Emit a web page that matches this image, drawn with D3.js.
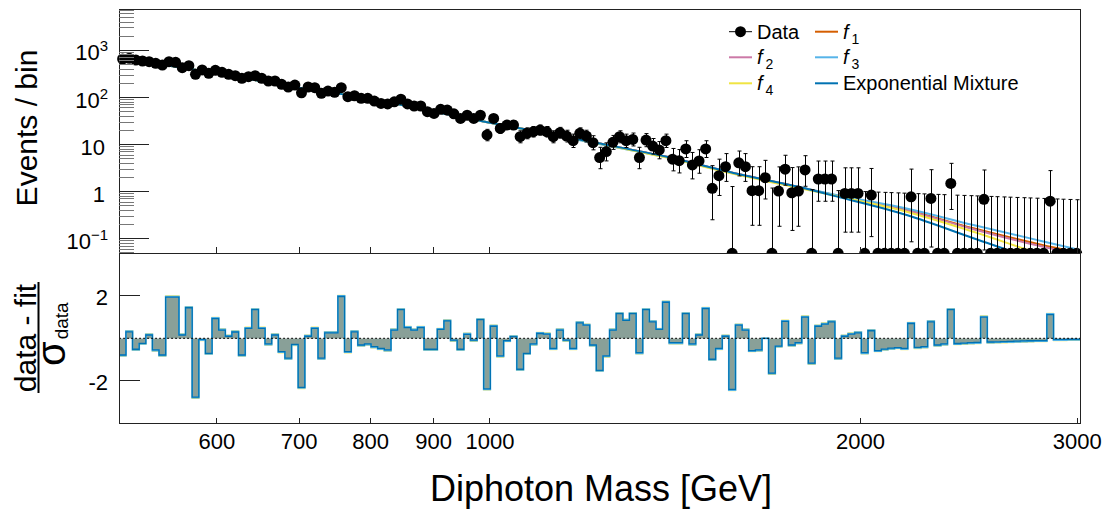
<!DOCTYPE html>
<html><head><meta charset="utf-8">
<script src="https://cdn.jsdelivr.net/npm/d3@7"></script>
<style>
html,body{margin:0;padding:0;background:#fff;}
svg{display:block;font-family:"Liberation Sans",Arial,Helvetica,sans-serif;}
</style></head><body>
<svg id="c" width="1110" height="509"></svg>
<script>
// ---------------- data ----------------
const massLow = 500, massHigh = 3015, nBins = 145;
const events = [657,680,625,596,575,532,490,575,559,429,473,311,384,326,378,343,310,290,256,277,
  290,256,224,224,191,167,184,126,167,162,123,137,129,162,104,109,96,96,84,75,
  73,81,92,73,66,66,50,46,56,54,45,36,42,36,42,16,36,22,26,26,
  14.7,17.4,18.8,20.4,18.8,14.7,17.9,15.2,12.1,17.4,15.2,11,5.3,7.1,11.2,14.7,12.1,12.9,5.3,12.5,
  9.3,7.7,12.1,4.9,4.55,8.1,3.7,4.5,8.1,1.18,2.19,3.4,0,4.1,3.4,1.05,1.05,1.98,0,1.03,
  3.0,0.95,1.03,2.9,0,1.86,1.86,1.86,0,0.92,0.92,0.92,0,0.85,0,0,0,0,0,0.78,
  0,0,0.72,0,0,1.5,0,0,0,0,0.69,0,0,0,0,0,0,0,0,0,
  0.63,0,0,0,0];
const pulls = [-0.78,0.31,-0.51,-0.23,0.16,-0.54,-0.78,1.94,1.94,0.16,1.44,-2.76,-0.05,-0.7,0.93,0.39,0.1,0.3,-0.78,0.47,
  1.35,0.47,-0.26,0.16,-0.62,-0.93,-0.28,-2.3,0.1,0.47,-0.93,0.26,0.26,1.97,-0.62,0.31,-0.31,-0.26,-0.39,-0.47,
  -0.54,0.39,1.35,0.51,0.39,0.51,-0.51,-0.51,0.42,0.82,-0.08,-0.51,0.19,-0.08,0.88,-2.37,0.57,-0.82,-0.1,0.08,
  -1.45,-0.7,-0.26,0.23,0.2,-0.47,0.39,-0.08,-0.47,0.73,0.62,-0.31,-1.5,-0.82,0.39,1.16,0.85,1.16,-0.67,1.35,
  0.78,0.42,1.7,-0.2,-0.2,1.16,-0.26,0.16,1.4,-0.98,-0.47,0.1,-2.4,0.62,0.39,-0.57,-0.54,0,-1.63,-0.36,
  0.8,-0.31,-0.2,1.0,-1.16,0.57,0.67,0.78,-0.93,0.1,0.2,0.26,-0.67,0.36,-0.57,-0.5,-0.46,-0.43,-0.47,0.7,
  -0.42,-0.39,0.78,-0.31,-0.26,1.35,-0.24,-0.22,-0.2,-0.19,1.0,-0.17,-0.16,-0.15,-0.14,-0.13,-0.12,-0.11,-0.1,-0.1,
  1.12,-0.05,-0.05,-0.04,-0.04];
const fitMass = [500,578,701,758,988,1229,1392,1577,1786,1924,2180,2470,2798,3015];
const fitF1  = [690,385,160,118,31,10.5,5.5,2.5,1.25,0.80,0.41,0.167,0.076,0.050];
const fitF2  = [690,385,160,118,31,10.5,5.5,2.5,1.24,0.79,0.40,0.160,0.070,0.046];
const fitF3  = [690,385,160,118,31,10.2,5.35,2.45,1.24,0.82,0.44,0.196,0.091,0.058];
const fitF4  = [690,385,160,118,31,10.4,5.3,2.4,1.18,0.78,0.376,0.141,0.048,0.027];
const fitMix = [690,385,160,118,31,10.5,5.5,2.5,1.24,0.76,0.32,0.103,0.033,0.016];
const xTickValues = [600,700,800,900,1000,2000,3000];
const yMajorTicks = [0.1,1,10,100,1000];
const yTickLabels = [["10","\u22121"],["1",null],["10",null],["10","2"],["10","3"]];
const pullTickValues = [-2,2];
const pullTickLabels = ["-2","2"];
const emptyBinUpper = 1.84, normMass = 1100;

// ---------------- layout ----------------
const L = 119.3, R = 1080, T1 = 9, B1 = 253.3, B2 = 423.5;
const svg = d3.select("#c");
const x = d3.scaleLog().domain([massLow, massHigh]).range([L, R]);
const y = d3.scaleLog().domain([0.0492, 7570]).range([B1, T1]);
const yp = d3.scaleLinear().domain([-4, 4]).range([B2, B1]);
const edges = d3.range(nBins + 1).map(i => massLow * Math.pow(massHigh / massLow, i / nBins));
const bins = events.map((v, i) => ({lo: edges[i], hi: edges[i+1], c: Math.sqrt(edges[i]*edges[i+1]), v, p: pulls[i]}));

const colors = {f1:"#D55E00", f2:"#CC79A7", f3:"#56B4E9", f4:"#F0E442", mix:"#0072B2"};

svg.append("defs").append("clipPath").attr("id","clipTop")
  .append("rect").attr("x",0).attr("y",T1).attr("width",1110).attr("height",B1-T1);
svg.append("defs").append("clipPath").attr("id","clipFit")
  .append("rect").attr("x",L).attr("y",T1).attr("width",R-L).attr("height",B1-T1);

// ---------------- bottom panel (pulls) ----------------
const pullG = svg.append("g");
const stepPts = [];
bins.forEach(b => { stepPts.push([x(b.lo), yp(b.p)]); stepPts.push([x(b.hi), yp(b.p)]); });
const z0 = yp(0);
pullG.append("path")
  .attr("d", d3.area().x(d => d[0]).y0(z0).y1(d => d[1])(stepPts))
  .attr("fill", "#89a098");
pullG.append("path").attr("d", d3.line()(stepPts.map(d=>[d[0], d[1] + (d[1] < z0 ? -1.2 : (d[1] > z0 ? 1.2 : 0))])))
  .attr("fill","none").attr("stroke", colors.f4).attr("stroke-width",1.2).attr("opacity",0.8);
pullG.append("path").attr("d", d3.line()(stepPts.map(d=>[d[0], d[1] + (d[1] < z0 ? -0.6 : (d[1] > z0 ? 0.6 : 0))])))
  .attr("fill","none").attr("stroke", colors.f3).attr("stroke-width",1.8);
pullG.append("path").attr("d", d3.line()(stepPts))
  .attr("fill","none").attr("stroke", colors.mix).attr("stroke-width",1.3);
pullG.append("line").attr("x1",L).attr("x2",R).attr("y1",z0).attr("y2",z0)
  .attr("stroke","#000").attr("stroke-width",1.2).attr("stroke-dasharray","1.5,2.5");

// ---------------- top panel ----------------
const topG = svg.append("g");
const fitLine = d3.line().x((d)=>x(d[0])).y(d=>y(d[1])).curve(d3.curveMonotoneX);
const fits = [["f1",fitF1],["f2",fitF2],["f3",fitF3],["f4",fitF4],["mix",fitMix]];
const fitG = topG.append("g").attr("clip-path","url(#clipFit)");
fits.forEach(([k, arr]) => {
  fitG.append("path").attr("d", fitLine(fitMass.map((m,i)=>[m, arr[i]])))
    .attr("fill","none").attr("stroke", colors[k]).attr("stroke-width", 2);
});

function errBand(v, m) {
  if (v <= 0) return [0, emptyBinUpper * normMass / m];
  const lo = v * Math.pow(1 - 1/(9*v) - 1/(3*Math.sqrt(v)), 3);
  const hi = v + Math.sqrt(v + 0.75) + 1;
  return [lo, hi];
}
const yc = v => v <= 0.0492 ? B1 : y(v);
const dataG = topG.append("g").attr("clip-path","url(#clipTop)");
bins.forEach(b => {
  const [lo, hi] = errBand(b.v, b.c);
  const cx = Math.round(x(b.c)) + 0.5;
  dataG.append("line").attr("x1",cx).attr("x2",cx).attr("y1",yc(lo)).attr("y2",yc(hi))
    .attr("stroke","#000").attr("stroke-width",1);
  [lo, hi].forEach(e => { if (e > 0.0492) dataG.append("line").attr("x1",cx-2).attr("x2",cx+2)
     .attr("y1",yc(e)).attr("y2",yc(e)).attr("stroke","#000").attr("stroke-width",1); });
});
dataG.selectAll("circle.pt").data(bins).join("circle").attr("class","pt")
  .attr("cx", d => x(d.c)).attr("cy", d => yc(d.v)).attr("r", 5.5).attr("fill","#000");

// ---------------- frames & axes ----------------
const frame = svg.append("g").attr("fill","none").attr("stroke","#222").attr("stroke-width",1).attr("shape-rendering","crispEdges");
frame.append("rect").attr("x",L).attr("y",T1).attr("width",R-L).attr("height",B1-T1);
frame.append("rect").attr("x",L).attr("y",B1).attr("width",R-L).attr("height",B2-B1);

const ax = svg.append("g").attr("stroke","#222").attr("stroke-width",1).attr("shape-rendering","crispEdges");
const yMinor = [];
[-2,-1,0,1,2,3].forEach(e => { for (let k=2;k<=9;k++){ const v=k*Math.pow(10,e); if (v>0.0492 && v<7570) yMinor.push(v);} });
yMinor.forEach(v => ax.append("line").attr("x1",L).attr("x2",L+15).attr("y1",y(v)).attr("y2",y(v)).attr("stroke","#777"));
yMajorTicks.forEach(v => ax.append("line").attr("x1",L).attr("x2",L+30).attr("y1",y(v)).attr("y2",y(v)));
xTickValues.forEach(m => {
  ax.append("line").attr("x1",x(m)).attr("x2",x(m)).attr("y1",B1).attr("y2",B1-6);
  ax.append("line").attr("x1",x(m)).attr("x2",x(m)).attr("y1",B2).attr("y2",B2-6);
});
pullTickValues.forEach(v => ax.append("line").attr("x1",L).attr("x2",L+21).attr("y1",yp(v)).attr("y2",yp(v)));

// labels
const lab = svg.append("g").attr("fill","#000").style("font-size","22px");
yMajorTicks.forEach((v,i) => {
  const [base, sup] = yTickLabels[i];
  const t = lab.append("text").attr("x", sup ? 108 : 105).attr("y", y(v)+10).attr("text-anchor","end");
  t.append("tspan").text(base);
  if (sup) t.append("tspan").attr("dy",-9).style("font-size","15px").text(sup);
});
pullTickValues.forEach((v,i) => lab.append("text").attr("x",108).attr("y",yp(v)+9).attr("text-anchor","end").text(pullTickLabels[i]));
xTickValues.forEach(m => lab.append("text").attr("x",x(m)).attr("y",449).attr("text-anchor","middle").text(m));

svg.append("text").attr("x",601).attr("y",501).attr("text-anchor","middle").style("font-size","36px").text("Diphoton Mass [GeV]");
svg.append("text").attr("transform","translate(37,128) rotate(-90)").attr("text-anchor","middle").style("font-size","30px").text("Events / bin");
svg.append("text").attr("transform","translate(36,338) rotate(-90)").attr("text-anchor","middle").style("font-size","30px").text("data - fit");
svg.append("line").attr("x1",38.5).attr("x2",38.5).attr("y1",282).attr("y2",393).attr("stroke","#000").attr("stroke-width",2);
const sig = svg.append("text").attr("transform","translate(65,366) rotate(-90)").attr("text-anchor","start");
sig.append("tspan").style("font-size","40px").text("\u03C3");
sig.append("tspan").attr("dy",3).attr("dx",2).style("font-size","19px").text("data");

// legend
const leg = svg.append("g").style("font-size","20px");
const legendItems = [
  {col:0,row:0,key:"data",label:"Data"},
  {col:1,row:0,key:"f1",sub:"1"},
  {col:0,row:1,key:"f2",sub:"2"},
  {col:1,row:1,key:"f3",sub:"3"},
  {col:0,row:2,key:"f4",sub:"4"},
  {col:1,row:2,key:"mix",label:"Exponential Mixture"}];
const colX = [729, 815], rowY = [31.7, 57.3, 83.3];
legendItems.forEach(it => {
  const x0 = colX[it.col], y0 = rowY[it.row];
  if (it.key === "data") {
    leg.append("line").attr("x1",x0).attr("x2",x0+23).attr("y1",y0).attr("y2",y0).attr("stroke","#000").attr("stroke-width",1);
    leg.append("circle").attr("cx",x0+11.5).attr("cy",y0).attr("r",5.5).attr("fill","#000");
  } else {
    leg.append("line").attr("x1",x0).attr("x2",x0+23).attr("y1",y0).attr("y2",y0).attr("stroke",colors[it.key]).attr("stroke-width",2);
  }
  const t = leg.append("text").attr("x",x0+28).attr("y",y0+7);
  if (it.label) t.text(it.label);
  else { t.append("tspan").style("font-style","italic").text("f");
         t.append("tspan").attr("dx",3).attr("dy",5).style("font-size","14px").text(it.sub); }
});
</script>
</body></html>
